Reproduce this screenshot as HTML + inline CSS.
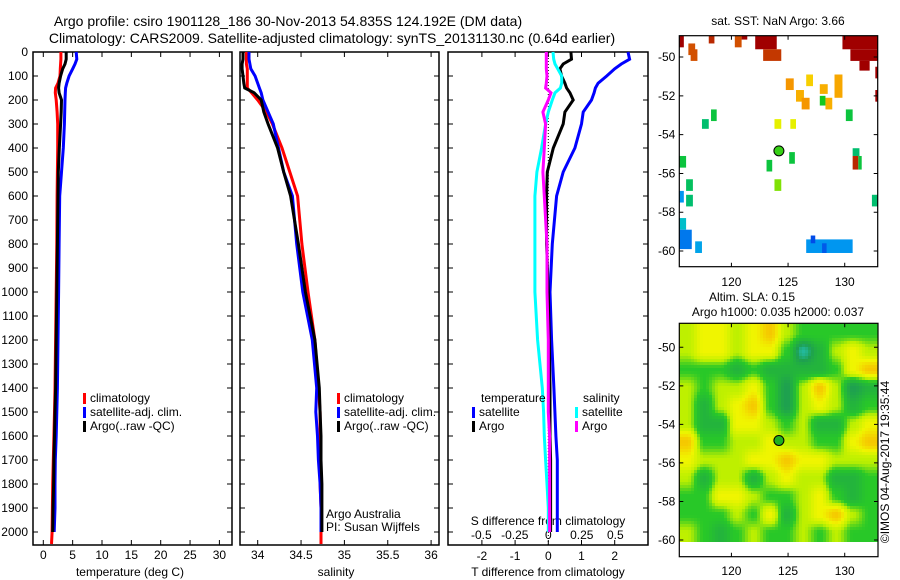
<!DOCTYPE html>
<html><head><meta charset="utf-8"><style>
body{margin:0;background:#fff}
svg{display:block;font-family:"Liberation Sans",sans-serif}
</style></head><body>
<svg id="fig" width="900" height="580" viewBox="0 0 900 580">
<defs>
<clipPath id="slaclip"><rect x="679" y="323" width="199" height="219"/></clipPath>
</defs>
<g font-size="14" text-anchor="middle">
<text x="288" y="26">Argo profile: csiro 1901128_186 30-Nov-2013 54.835S 124.192E (DM data)</text>
<text x="332" y="43">Climatology: CARS2009. Satellite-adjusted climatology: synTS_20131130.nc (0.64d earlier)</text>
</g>
<g id="p1"></g>
<g id="p2"></g>
<g id="p3"></g>
<g id="m1"></g>
<g id="m2"></g>
<text x="889" y="462" font-size="12" text-anchor="middle" transform="rotate(-90 889 462)">©IMOS 04-Aug-2017 19:35:44</text>
</svg>
<script>
const depths=[0,30,50,70,100,130,150,170,200,250,300,400,500,600,800,1000,1200,1400,1500,1600,1700,1800,1900,2000,2050];
const tClim=[3.0,3.0,2.95,2.9,2.85,2.5,2.1,2.05,2.2,2.35,2.45,2.45,2.4,2.35,2.3,2.2,2.1,2.0,1.9,1.8,1.7,1.6,1.55,1.5,1.4];
const tSat=[5.6,5.7,5.4,5.0,4.4,4.0,3.8,3.75,3.7,3.65,3.6,3.4,3.1,2.8,2.7,2.6,2.5,2.4,2.3,2.2,2.05,2.0,2.0,1.85,null];
const tArgo=[3.9,3.9,3.7,3.3,2.95,2.7,2.6,2.7,3.1,3.05,2.95,2.73,2.55,2.5,2.4,2.3,2.2,2.1,2.0,1.9,1.8,1.75,1.65,1.6,null];
const sClim=[33.87,33.87,33.87,33.88,33.88,33.88,33.88,33.93,34.0,34.1,34.17,34.28,34.37,34.46,34.51,34.58,34.66,34.7,34.72,34.72,34.72,34.72,34.73,34.73,34.73];
const sSat=[33.9,33.9,33.91,33.92,33.97,34.0,34.02,34.04,34.06,34.12,34.18,34.24,34.3,34.4,34.45,34.52,34.63,34.68,34.67,34.69,34.7,34.72,34.73,34.73,null];
const sArgo=[33.83,33.83,33.82,33.82,33.83,33.84,33.85,33.96,34.04,34.07,34.12,34.23,34.3,34.38,34.47,34.55,34.66,34.71,34.72,34.73,34.73,34.74,34.74,34.74,null];
const dtSat=[2.4,2.45,2.2,2.0,1.76,1.5,1.42,1.38,1.3,1.05,1.0,0.8,0.45,0.25,0.12,0.05,0.1,0.17,0.2,0.23,0.27,0.27,0.27,0.27,null];
const dtArgo=[0.68,0.7,0.45,0.35,0.4,0.5,0.55,0.65,0.75,0.5,0.45,0.15,-0.03,-0.05,-0.05,0.0,0.03,0.05,0.05,0.05,0.07,0.07,0.07,0.07,null];
const dsSat=[0.035,0.04,0.05,0.07,0.1,0.1,0.09,0.05,0.03,0.0,-0.02,-0.05,-0.085,-0.1,-0.1,-0.1,-0.08,-0.045,-0.035,-0.03,-0.02,-0.01,0.0,0.0,null];
const dsArgo=[-0.015,-0.015,-0.015,-0.015,-0.01,-0.015,-0.02,0.02,0.0,-0.04,-0.02,-0.03,-0.04,-0.03,-0.01,-0.01,0.0,0.0,0.0,0.01,0.01,0.01,0.01,0.01,null];
const depthTicks=[0,100,200,300,400,500,600,700,800,900,1000,1100,1200,1300,1400,1500,1600,1700,1800,1900,2000];
const tTicks=[0,5,10,15,20,25,30];
const sTicks=[34,34.5,35,35.5,36];
const sTickLabels=["34","34.5","35","35.5","36"];
const dtTicks=[-2,-1,0,1,2];
const dsTicks=[-0.5,-0.25,0,0.25,0.5];
const dsTickLabels=["-0.5","-0.25","0","0.25","0.5"];
const sstLon0=[115.4,116.2,116.4,118.0,120.3,120.9,122.1,122.8,129.8,130.5,131.3,132.7,132.7,124.8,126.6,125.7,126.2,127.8,127.8,128.3,129.1,130.1,118.2,117.4,123.8,125.2,125.1,123.1,123.8,115.4,116.0,116.0,115.4,115.4,115.4,116.8,130.7,130.7,131.2,132.4,126.6,127.0,128.0];
const sstLon1=[115.8,116.8,117.0,118.5,120.9,121.4,124.0,124.4,132.9,132.9,132.2,132.9,132.9,125.5,127.2,126.4,126.9,128.5,128.3,128.9,129.8,130.7,118.7,118.0,124.4,125.7,125.6,123.6,124.4,116.0,116.6,116.6,115.8,116.0,116.5,117.4,131.3,131.2,131.5,132.9,130.7,127.4,128.4];
const sstLat0=[-48.9,-49.3,-49.6,-48.9,-48.9,-48.9,-48.9,-49.6,-48.9,-49.6,-50.2,-50.5,-51.7,-51.1,-50.9,-51.7,-52.1,-51.4,-52.0,-52.1,-50.9,-52.7,-52.7,-53.2,-53.2,-53.2,-54.9,-55.3,-56.3,-55.1,-56.3,-57.1,-56.9,-58.3,-58.9,-59.5,-54.7,-55.1,-55.1,-57.1,-59.4,-59.2,-59.6];
const sstLat1=[-49.5,-49.9,-50.2,-49.3,-49.5,-49.1,-49.6,-50.2,-49.6,-50.2,-50.7,-51.1,-52.3,-51.7,-51.5,-52.3,-52.7,-51.9,-52.5,-52.7,-52.1,-53.3,-53.3,-53.7,-53.7,-53.7,-55.5,-55.9,-56.9,-55.7,-56.9,-57.7,-57.5,-58.9,-59.9,-60.1,-55.1,-55.8,-55.8,-57.7,-60.1,-59.6,-60.1];
const sstVal=[8,7,7,7.5,7,8,8,7.3,8,8,8,8,8,6,5.3,5.7,6,5.7,3.5,5.7,5.8,3.3,3.3,3.0,4.8,4.8,3.3,3.3,4.0,3.3,3.1,3.0,1.8,2.5,1.6,2.0,3.0,7.5,3.3,3.0,1.8,1.3,1.4];
const argoLon=124.192, argoLat=-54.835, argoSST=3.66;
const mapLonTicks=[120,125,130];
const map1LatTicks=[-50,-52,-54,-56,-58,-60];
const slaRows=[
[2.5,3,3,2.5,3,3.5,2.5,2,2,2,2,2],
[2.5,3,3,2.5,3,3,2,0.5,1.5,2.5,3,2.5],
[2,2,2,1.5,2,1.5,1.5,1.5,1.5,2,3,3.5],
[2.5,2,2.5,2.5,3,2,1,2.5,3.5,2.5,1,1.5],
[2.5,1.5,2.5,3,3.5,2,1,2.5,3,2.5,1.5,2],
[2.5,1.5,1.5,3,3,2.5,2,2.5,1.5,1.5,2.5,3],
[3.5,2,2,2.5,2.5,3,2.5,2.5,2,2,3,3.5],
[3,2.5,2.5,2.5,3,3,3.5,3,3,2.5,2.5,2.5],
[2.5,1.5,2.5,2.5,1.5,2.5,3,2.5,2.5,1.5,1.5,2],
[2,2,3,3,2.5,2,2,2.5,3,2,1.5,2],
[2,2,2,2.5,2,3,1.5,2.5,3,3.5,2.5,2],
[2.5,2,1.5,2,2.5,2,2,2.5,2,2.5,2,2]];
const slaLonMin=115.4, slaLonMax=132.9, slaLatMax=-48.8, slaLatMin=-60.1;

const NS='http://www.w3.org/2000/svg';
function mk(parent,tag,attrs,text){const e=document.createElementNS(NS,tag);for(const k in attrs)e.setAttribute(k,attrs[k]);if(text!==undefined)e.textContent=text;parent.appendChild(e);return e;}
const yD=d=>52+0.24*d;
const PTOP=52, PBOT=545;

function panelFrame(g,x0,x1,name){
  const r=mk(g,'rect',{x:x0,y:PTOP,width:x1-x0,height:PBOT-PTOP,fill:'none',stroke:'#000','stroke-width':1.5});
  
  
  depthTicks.forEach(d=>{
    const t=mk(g,'path',{d:`M${x0},${yD(d)}h5M${x1},${yD(d)}h-5`,stroke:'#000','stroke-width':1});
    
    
  });
}
function line(g,xs,vals,fx,col,name){
  let pts=[];
  vals.forEach((v,i)=>{if(v!==null)pts.push(fx(v).toFixed(1)+','+yD(xs[i]).toFixed(1));});
  const p=mk(g,'polyline',{points:pts.join(' '),fill:'none',stroke:col,'stroke-width':3});
  
  
}
function legendEntry(g,x,y,col,label,name){
  const e=mk(g,'g',{});
  
  
  mk(e,'rect',{x:x,y:y-9,width:3,height:11,fill:col});
  mk(e,'text',{x:x+7,y:y,'font-size':12},label);
}

const p1=document.getElementById('p1');
const xT=t=>43.3+5.87*t;
panelFrame(p1,33,232,'temperature-panel');
depthTicks.forEach(d=>{const t=mk(p1,'text',{x:28,y:yD(d)+4,'font-size':12,'text-anchor':'end'},String(d));});
tTicks.forEach(v=>{mk(p1,'path',{d:`M${xT(v)},${PBOT}v-5M${xT(v)},${PTOP}v5`,stroke:'#000'});const t=mk(p1,'text',{x:xT(v),y:559,'font-size':12,'text-anchor':'middle'},String(v));});
mk(p1,'text',{x:130,y:576,'font-size':12,'text-anchor':'middle'},'temperature (deg C)');
line(p1,depths,tClim,xT,'#f00','temp-climatology-line');
line(p1,depths,tSat,xT,'#00f','temp-satellite-line');
line(p1,depths,tArgo,xT,'#000','temp-argo-line');
legendEntry(p1,83,402,'#f00','climatology','legend-climatology');
legendEntry(p1,83,416,'#00f','satellite-adj. clim.','legend-satellite-adj');
legendEntry(p1,83,430,'#000','Argo(..raw -QC)','legend-argo');

const p2=document.getElementById('p2');
const xS=s=>257.7+86.7*(s-34);
panelFrame(p2,240,439,'salinity-panel');
sTicks.forEach((v,i)=>{mk(p2,'path',{d:`M${xS(v)},${PBOT}v-5M${xS(v)},${PTOP}v5`,stroke:'#000'});const t=mk(p2,'text',{x:xS(v),y:559,'font-size':12,'text-anchor':'middle'},sTickLabels[i]);});
mk(p2,'text',{x:336,y:576,'font-size':12,'text-anchor':'middle'},'salinity');
line(p2,depths,sClim,xS,'#f00','sal-climatology-line');
line(p2,depths,sSat,xS,'#00f','sal-satellite-line');
line(p2,depths,sArgo,xS,'#000','sal-argo-line');
legendEntry(p2,337,402,'#f00','climatology','legend-climatology-2');
legendEntry(p2,337,416,'#00f','satellite-adj. clim.','legend-satellite-adj-2');
legendEntry(p2,337,430,'#000','Argo(..raw -QC)','legend-argo-2');
mk(p2,'text',{x:326,y:518,'font-size':12},'Argo Australia');
mk(p2,'text',{x:326,y:531,'font-size':12},'PI: Susan Wijffels');

const p3=document.getElementById('p3');
const xDT=t=>548.3+33.2*t;
const xDS=s=>548.3+134*s;
panelFrame(p3,448,648,'difference-panel');
mk(p3,'line',{x1:xDT(0),y1:PTOP,x2:xDT(0),y2:PBOT,stroke:'#000','stroke-width':1,'stroke-dasharray':'1,2'});
dtTicks.forEach(v=>{mk(p3,'path',{d:`M${xDT(v)},${PBOT}v-5M${xDT(v)},${PTOP}v5`,stroke:'#000'});const t=mk(p3,'text',{x:xDT(v),y:560,'font-size':12,'text-anchor':'middle'},String(v));});
dsTicks.forEach((v,i)=>{const t=mk(p3,'text',{x:xDS(v),y:539,'font-size':12,'text-anchor':'middle'},dsTickLabels[i]);});
mk(p3,'text',{x:548,y:525,'font-size':12,'text-anchor':'middle'},'S difference from climatology');
mk(p3,'text',{x:548,y:576,'font-size':12,'text-anchor':'middle'},'T difference from climatology');
line(p3,depths,dtSat,xDT,'#00f','tdiff-satellite-line');
line(p3,depths,dtArgo,xDT,'#000','tdiff-argo-line');
line(p3,depths,dsSat,xDS,'#0ff','sdiff-satellite-line');
line(p3,depths,dsArgo,xDS,'#f0f','sdiff-argo-line');
mk(p3,'text',{x:481,y:402,'font-size':12},'temperature');
mk(p3,'text',{x:583,y:402,'font-size':12},'salinity');
legendEntry(p3,472,416,'#00f','satellite','legend-t-satellite');
legendEntry(p3,472,430,'#000','Argo','legend-t-argo');
legendEntry(p3,575,416,'#0ff','satellite','legend-s-satellite');
legendEntry(p3,575,430,'#f0f','Argo','legend-s-argo');

function jet(v){
  const stops=[[0,[0,0,160]],[1.2,[0,60,230]],[1.8,[0,150,240]],[2.4,[0,190,220]],[3.0,[0,190,110]],[3.5,[20,200,30]],[4.1,[150,230,0]],[4.8,[230,240,0]],[5.4,[250,200,0]],[6.0,[245,150,0]],[7.0,[210,80,0]],[8,[160,0,0]]];
  v=Math.max(0,Math.min(8,v));
  for(let i=1;i<stops.length;i++){if(v<=stops[i][0]){const a=stops[i-1],b=stops[i],f=(v-a[0])/(b[0]-a[0]);return 'rgb('+a[1].map((c,k)=>Math.round(c+(b[1][k]-c)*f)).join(',')+')';}}
  return 'rgb(160,0,0)';
}
function slaCol(v){
  const stops=[[0,[40,210,230]],[1,[30,160,80]],[2,[40,200,40]],[2.5,[190,240,0]],[3,[240,245,0]],[3.5,[245,200,0]],[4,[240,150,0]]];
  v=Math.max(0,Math.min(4,v));
  for(let i=1;i<stops.length;i++){if(v<=stops[i][0]){const a=stops[i-1],b=stops[i],f=(v-a[0])/(b[0]-a[0]);return 'rgb('+a[1].map((c,k)=>Math.round(c+(b[1][k]-c)*f)).join(',')+')';}}
  return 'rgb(240,150,0)';
}
function mapAxes(g,x0,x1,y0,y1,lonF,latF,latTicks,labelY,name){
  const r=mk(g,'rect',{x:x0,y:y0,width:x1-x0,height:y1-y0,fill:'none',stroke:'#000','stroke-width':1.2});
  
  
  mapLonTicks.forEach(v=>{mk(g,'path',{d:`M${lonF(v)},${y1}v-4M${lonF(v)},${y0}v4`,stroke:'#000'});const t=mk(g,'text',{x:lonF(v),y:labelY,'font-size':12,'text-anchor':'middle'},String(v));});
  latTicks.forEach(v=>{mk(g,'path',{d:`M${x0},${latF(v)}h4M${x1},${latF(v)}h-4`,stroke:'#000'});const t=mk(g,'text',{x:x0-4,y:latF(v)+4,'font-size':12,'text-anchor':'end'},String(v));});
}

const m1=document.getElementById('m1');
const lonX1=l=>679.3+11.33*(l-115.4);
const latY1=l=>35.7+19.4*(-48.9-l);
mk(m1,'text',{x:778,y:25,'font-size':12,'text-anchor':'middle'},'sat. SST: NaN Argo: 3.66');
sstVal.forEach((v,i)=>{
  const c=mk(m1,'rect',{x:lonX1(sstLon0[i]),y:latY1(sstLat0[i]),width:lonX1(sstLon1[i])-lonX1(sstLon0[i]),height:latY1(sstLat1[i])-latY1(sstLat0[i]),fill:jet(v)});
  
  
});
const c1=mk(m1,'circle',{cx:lonX1(argoLon),cy:latY1(argoLat),r:5,fill:jet(argoSST),stroke:'#000','stroke-width':1});


mapAxes(m1,679.3,877.7,35.7,266.7,lonX1,latY1,map1LatTicks,286,'sst-map');

const m2=document.getElementById('m2');
const lonX2=l=>679.3+11.33*(l-115.4);
const latY2=l=>347.3+19.27*(-50-l);
mk(m2,'text',{x:752,y:301,'font-size':12,'text-anchor':'middle'},'Altim. SLA: 0.15');
mk(m2,'text',{x:778,y:316,'font-size':12,'text-anchor':'middle'},'Argo h1000: 0.035 h2000: 0.037');
const field=mk(m2,'g',{'clip-path':'url(#slaclip)'});


const nR=slaRows.length,nC=slaRows[0].length;
function slaAt(fr,fc){ // smooth bicubic-ish (bilinear with smoothstep) sampling at fractional cell coords
  fr=Math.max(0,Math.min(nR-1,fr)); fc=Math.max(0,Math.min(nC-1,fc));
  const r0=Math.floor(fr),c0=Math.floor(fc),r1=Math.min(nR-1,r0+1),c1=Math.min(nC-1,c0+1);
  let a=fr-r0,b=fc-c0; a=a*a*(3-2*a); b=b*b*(3-2*b);
  const top=slaRows[r0][c0]*(1-b)+slaRows[r0][c1]*b, bot=slaRows[r1][c0]*(1-b)+slaRows[r1][c1]*b;
  return top*(1-a)+bot*a;
}
const PX=3, fx0=679, fx1=878, fy0=323, fy1=542;
const lonSpan=slaLonMax-slaLonMin, latSpan=slaLatMax-slaLatMin;
for(let y=fy0;y<fy1;y+=PX){
  for(let x=fx0;x<fx1;x+=PX){
    const lon=115.4+(x+PX/2-679.3)/11.33, lat=-50-(y+PX/2-347.3)/19.27;
    const fc=(lon-slaLonMin)/lonSpan*nC-0.5, fr=(slaLatMax-lat)/latSpan*nR-0.5;
    const c=mk(field,'rect',{x:x,y:y,width:PX+0.3,height:PX+0.3,fill:slaCol(slaAt(fr,fc))});
    
    
  }
}
const c2=mk(m2,'circle',{cx:lonX2(argoLon),cy:latY2(argoLat),r:5,fill:'#20b020',stroke:'#000','stroke-width':1});


mapAxes(m2,679.3,878,323.3,556.7,lonX2,latY2,[-50,-52,-54,-56,-58,-60],575,'sla-map');
</script>
</body></html>
